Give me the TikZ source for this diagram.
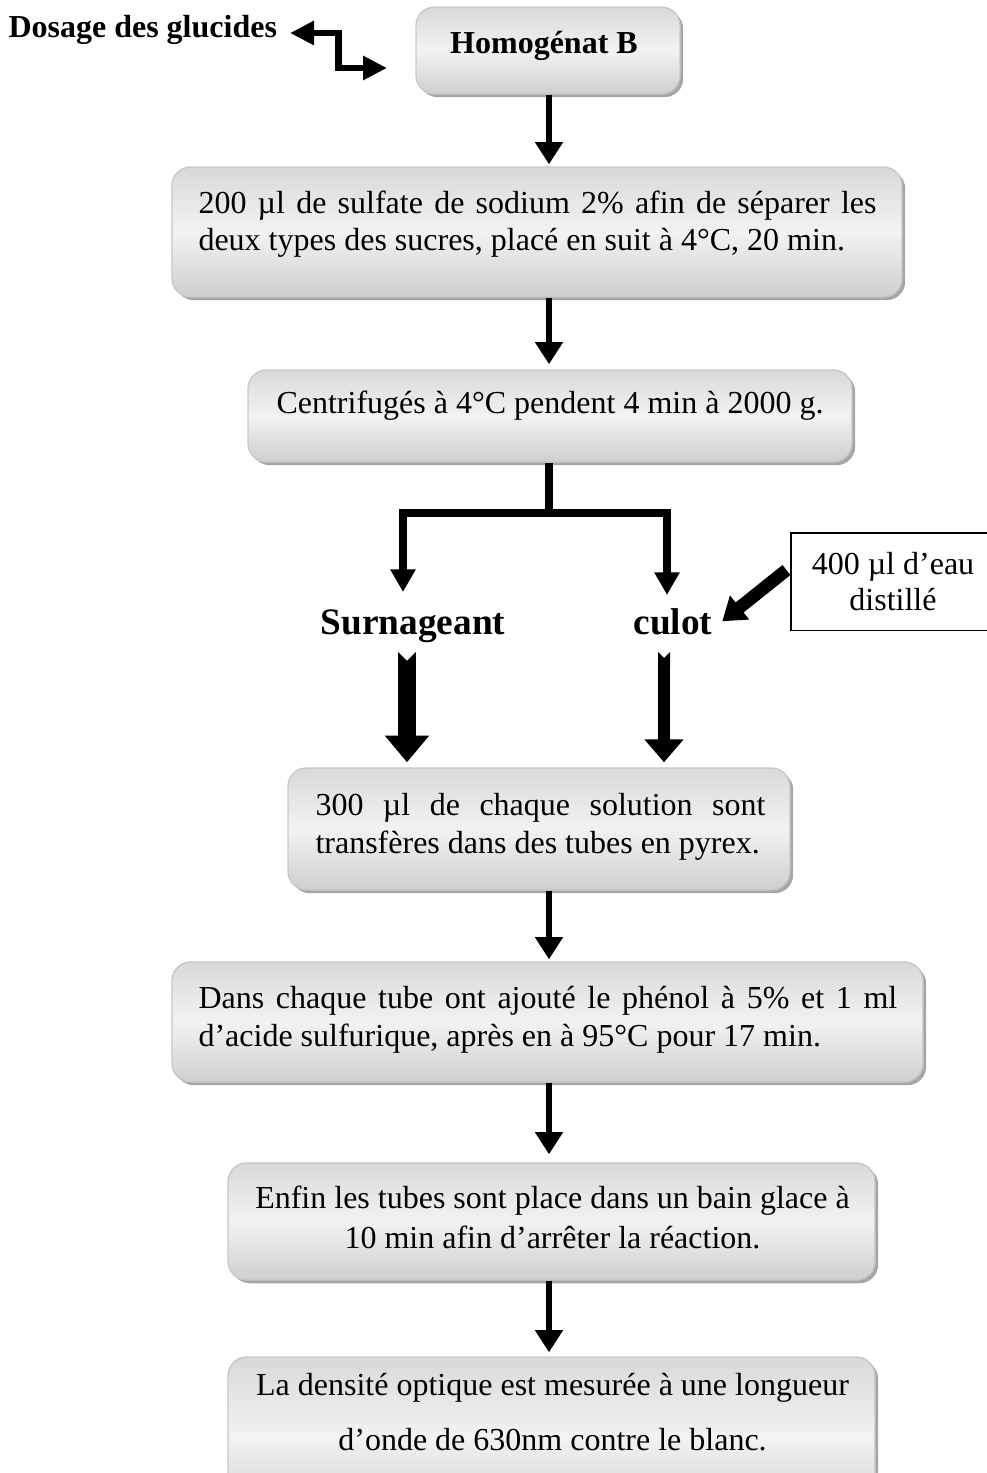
\documentclass[tikz,border=0pt]{standalone}
\usepackage{fontspec}
\setmainfont{Liberation Serif}
\usetikzlibrary{arrows.meta, calc, shadows}
\colorlet{box edge}{black!22}
\colorlet{box top}{black!15}
\colorlet{box mid}{black!5}
\colorlet{box bottom}{black!19}
\colorlet{box shadow}{black!35}
\tikzset{
  stepbox/.style={rounded corners=7pt, draw=box edge, line width=0.5pt,
    top color=box top, bottom color=box bottom, middle color=box mid,
    drop shadow={shadow xshift=1.2pt, shadow yshift=-1.2pt, fill=box shadow, opacity=1},
    inner sep=0pt},
  plainbox/.style={draw, line width=0.4pt, fill=white, inner sep=0pt},
  boxtext/.style={inner sep=0pt, font=\fontsize{12}{14.25}\selectfont},
  tag/.style={inner sep=0pt, font=\fontsize{14}{16}\selectfont\bfseries},
  flow/.style={line width=2.6pt, -{Triangle[width=10pt, length=8.3pt]}},
  branch/.style={line width=3pt, line join=miter,
    {Triangle[width=9pt, length=8.5pt]}-{Triangle[width=9pt, length=8.5pt]}},
  elbow/.style={line width=2.6pt, line join=miter,
    {Triangle[width=8.6pt, length=9pt]}-{Triangle[width=8.6pt, length=9pt]}},
  pushflow/.style={line width=4.8pt, -{Triangle[width=11pt, length=8.3pt]}},
  fatL/.style={line width=6.7pt, {Triangle Cap[reversed]}-{Triangle[width=16pt, length=10pt]}},
  fatR/.style={line width=4.5pt, {Triangle Cap[reversed]}-{Triangle[width=14.2pt, length=8.6pt]}}
}

\begin{document}
\begin{tikzpicture}[x=0.375pt, y=-0.375pt]
    \useasboundingbox (0,0) rectangle (987,1473);
    \clip (0,0) rectangle (987,1473);

    \node[stepbox, minimum width=99pt, minimum height=32.6pt] (b1) at (548,50.5) {};
    \node[stepbox, minimum width=273.75pt, minimum height=48.75pt] (b2) at (537,232) {};
    \node[stepbox, minimum width=226.5pt, minimum height=34.5pt] (b3) at (550,416) {};
    \node[stepbox, minimum width=188.25pt, minimum height=45.75pt] (b4) at (539,829) {};
    \node[stepbox, minimum width=281.6pt, minimum height=45pt] (b5) at (547.5,1022) {};
    \node[stepbox, minimum width=242.6pt, minimum height=43.9pt] (b6) at (551.5,1221.5) {};
    \node[stepbox, minimum width=242.6pt, minimum height=60pt] (b7) at (551.5,1437) {};
    \node[plainbox, minimum width=76.5pt, minimum height=36.4pt] (eau) at (893,581.5) {};

    \node[boxtext, font=\fontsize{12}{14}\selectfont\bfseries, anchor=base west] (dosage) at (8,38) {Dosage des glucides};
    \node[boxtext, font=\fontsize{12}{14}\selectfont\bfseries, anchor=base] (t1) at (544,54) {Homogénat B};
    \node[boxtext, font=\fontsize{12}{13.9}\selectfont, text width=254.25pt, align=flush left, anchor=base west] (t2) at (198,213)
      {\makebox[\linewidth][s]{200 µl de sulfate de sodium 2\% afin de séparer les}\\deux types des sucres, placé en suit à 4°C, 20 min.};
    \node[boxtext, anchor=base] (t3) at (550,413) {Centrifugés à 4°C pendent 4 min à 2000 g.};
    \node[tag, anchor=base] (surn) at (413,634) {Surnageant};
    \node[tag, anchor=base] (culot) at (673,634) {culot};
    \node[boxtext, font=\fontsize{12}{13.2}\selectfont, align=center, anchor=base] (eaut) at (893,610) {400 µl d’eau\\distillé};
    \node[boxtext, text width=168.75pt, align=flush left, anchor=base west] (t4) at (315,815)
      {\makebox[\linewidth][s]{300 µl de chaque solution sont}\\transfères dans des tubes en pyrex.};
    \node[boxtext, font=\fontsize{12}{14.6}\selectfont, text width=262pt, align=flush left, anchor=base west] (t5) at (198,1008)
      {\makebox[\linewidth][s]{Dans chaque tube ont ajouté le phénol à 5\% et 1 ml}\\d’acide sulfurique, après en à 95°C pour 17 min.};
    \node[boxtext, font=\fontsize{12}{15}\selectfont, align=center, anchor=base] (t6) at (552.5,1248)
      {Enfin les tubes sont place dans un bain glace à\\10 min afin d’arrêter la réaction.};
    \node[boxtext, font=\fontsize{12}{20.6}\selectfont, align=center, anchor=base] (t7) at (552.5,1450)
      {La densité optique est mesurée à une longueur\\d’onde de 630nm contre le blanc.};

    \coordinate (spine) at (549,0);
    \coordinate (dg) at (290,33);
    \coordinate (hg) at (387,68);
    \coordinate (split) at (549,513);
    \coordinate (tipL) at (403,592);
    \coordinate (tipR) at (667,595);
    \coordinate (sl) at (407,652);
    \coordinate (sr) at (664,652);

    \draw[elbow] (dg) -| ($(dg)!0.5!(hg)$) |- (hg);
    \draw[flow, shorten >=0.75pt] (spine |- b1.south) -- (spine |- b2.north);
    \draw[flow, shorten >=1.9pt] (spine |- b2.south) -- (spine |- b3.north);
    \draw[line width=3pt] (spine |- b3.south) -- (split);
    \draw[branch] (tipL) |- (split) -| (tipR);
    \draw[pushflow] ([xshift=-1.5pt, yshift=4.3pt]eau.west) -- ([xshift=3.5pt]culot.east);
    \draw[fatL, shorten >=1.9pt] (sl) -- (sl |- b4.north);
    \draw[fatR, shorten >=1.9pt] (sr) -- (sr |- b4.north);
    \draw[flow, shorten >=0.75pt] (spine |- b4.south) -- (spine |- b5.north);
    \draw[flow, shorten >=3pt] (spine |- b5.south) -- (spine |- b6.north);
    \draw[flow, shorten >=1.5pt] (spine |- b6.south) -- (spine |- b7.north);
\end{tikzpicture}
\end{document}
